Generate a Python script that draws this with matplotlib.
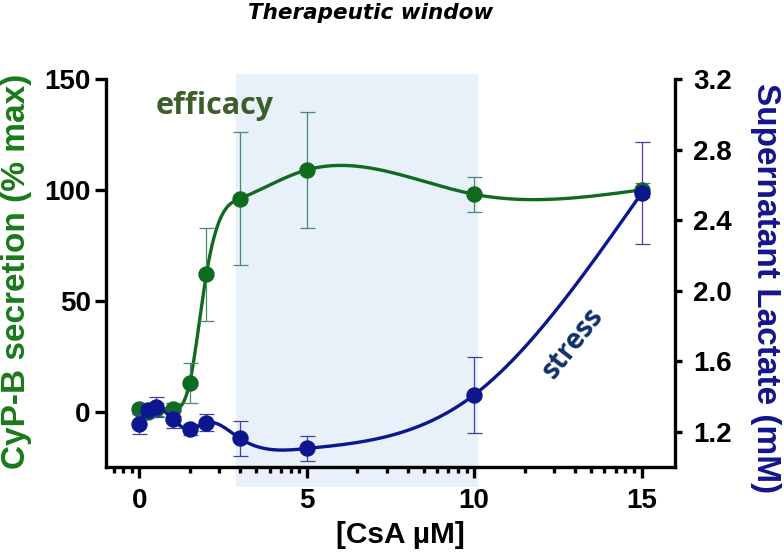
import numpy as np
import matplotlib
matplotlib.use("Agg")
import matplotlib.pyplot as plt
from matplotlib.font_manager import FontProperties

# data
csa = [0, 0.25, 0.5, 1, 1.5, 2, 3, 5, 10, 15]
cyp_b = [1, 0, 1, 1, 13, 62, 96, 109, 98, 100]
cyp_b_err = [2, 2, 3, 3, 9, 21, 30, 26, 8, 3]
lactate = [1.242, 1.324, 1.342, 1.27, 1.213, 1.251, 1.162, 1.105, 1.409, 2.552]
lactate_err = [0.057, 0.04, 0.057, 0.047, 0.03, 0.047, 0.10, 0.072, 0.214, 0.288]
window = (2.87, 10.1)

GREEN = "#0f6b1f"
GREEN_ERR = "#4a8a6a"
BLUE = "#0b168f"
BLUE_ERR = "#4040a0"


def natural_spline(x, y, xs):
    x = np.asarray(x, float)
    y = np.asarray(y, float)
    n = len(x)
    h = np.diff(x)
    A = np.zeros((n, n))
    rhs = np.zeros(n)
    A[0, 0] = A[-1, -1] = 1
    for i in range(1, n - 1):
        A[i, i - 1] = h[i - 1]
        A[i, i] = 2 * (h[i - 1] + h[i])
        A[i, i + 1] = h[i]
        rhs[i] = 6 * ((y[i + 1] - y[i]) / h[i] - (y[i] - y[i - 1]) / h[i - 1])
    M = np.linalg.solve(A, rhs)
    idx = np.clip(np.searchsorted(x, xs) - 1, 0, n - 2)
    x0, x1 = x[idx], x[idx + 1]
    hh = x1 - x0
    a = (x1 - xs) / hh
    b = (xs - x0) / hh
    return (a * y[idx] + b * y[idx + 1]
            + ((a ** 3 - a) * M[idx] + (b ** 3 - b) * M[idx + 1]) * hh ** 2 / 6)


fig = plt.figure(figsize=(7.84, 5.58), dpi=100)
ax = fig.add_axes([106 / 784, 91 / 558, 569 / 784, 388 / 558])
ax2 = ax.twinx()

ax.axvspan(window[0], window[1], ymin=-0.052, ymax=1.013, color="#e8f0f9",
           zorder=0, clip_on=False, lw=0)

xs = np.linspace(csa[0], csa[-1], 600)
ax.plot(xs, natural_spline(csa, cyp_b, xs), color=GREEN, lw=2.4, zorder=3)
ax.errorbar(csa, cyp_b, yerr=cyp_b_err, fmt="o", color=GREEN, ms=10.8,
            ecolor=GREEN_ERR, elinewidth=0.9, capsize=5.4, capthick=0.9, zorder=4)

ax2.plot(xs, natural_spline(csa, lactate, xs), color=BLUE, lw=2.4, zorder=3)
ax2.errorbar(csa, lactate, yerr=lactate_err, fmt="o", color=BLUE, ms=10.8,
             ecolor=BLUE_ERR, elinewidth=0.9, capsize=5.4, capthick=0.9, zorder=4)

ax.set_xlim(-1, 16)
ax.set_ylim(-25, 150)
ax2.set_ylim(1.0, 3.2)

ax.set_xticks([0, 5, 10, 15])
minor = [m + 5 * np.log10(k) for m in (-5, 0, 5, 10) for k in range(2, 10)]
ax.set_xticks([t for t in minor if -1 <= t <= 16], minor=True)
ax.set_yticks([0, 50, 100, 150])
ax2.set_yticks([1.2, 1.6, 2.0, 2.4, 2.8, 3.2])
ax2.set_yticklabels(["1.2", "1.6", "2.0", "2.4", "2.8", "3.2"])

for a in (ax, ax2):
    a.spines["top"].set_visible(False)
    for s in a.spines.values():
        s.set_linewidth(2.4)
ax.spines["right"].set_visible(False)
ax2.spines["left"].set_visible(False)
ax2.spines["bottom"].set_visible(False)

tick_font = FontProperties(family="Liberation Sans", weight="bold", size=20)
ax.tick_params(axis="both", which="major", direction="out", length=8, width=2.4)
ax.tick_params(axis="x", which="minor", direction="out", length=4.5, width=2.4)
ax.tick_params(axis="y", which="minor", left=False)
ax.tick_params(axis="y", pad=3)
ax2.tick_params(axis="y", which="major", direction="out", length=5, width=2.4,
                pad=8)
for lab in ax.get_xticklabels() + ax.get_yticklabels() + ax2.get_yticklabels():
    lab.set_fontproperties(tick_font)
ax.tick_params(axis="x", pad=7)

fig.text(17 / 784, 1 - 271 / 558, "CyP-B secretion (% max)", rotation=90,
         ha="center", va="center", color="#1a7a1a", family="Liberation Sans",
         weight="bold", size=24)
fig.text(765 / 784, 1 - 288 / 558, "Supernatant Lactate (mM)", rotation=270,
         ha="center", va="center", color="#14148c", family="Liberation Sans",
         weight="bold", size=24)
fig.text(400 / 784, 1 - 535 / 558, "[CsA µM]", ha="center", va="center",
         color="black", family="Liberation Sans", weight="bold", size=21.5)
fig.text(371 / 784, 1 - 13 / 558, "Therapeutic window", ha="center",
         va="center", family=["Liberation Sans Narrow", "DejaVu Sans"],
         weight="bold", style="italic", size=15.5)
fig.text(215 / 784, 1 - 106 / 558, "efficacy", ha="center", va="center",
         color="#3b5e2b", family="Open Sans", weight="bold", size=22)
fig.text(573 / 784, 1 - 343 / 558, "stress", ha="center", va="center",
         rotation=52, color="#10306a", family="Open Sans", weight="bold",
         size=20)

fig.savefig("out.png", dpi=100)
